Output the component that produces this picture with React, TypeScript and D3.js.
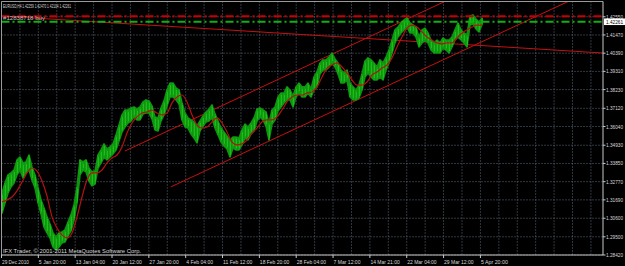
import React from "react";
import * as d3 from "d3";

// ---- Data (EURUSD H4; one sample ≈ every 3px) ----
const highs: number[] = [
  1.3210, 1.3269, 1.3317, 1.3329, 1.3346, 1.3406, 1.3423, 1.3388, 1.3394, 1.3435,
  1.3364, 1.3317, 1.3240, 1.3169, 1.3121, 1.3068, 1.3026, 1.2973, 1.2949, 1.2973,
  1.2979, 1.2991, 1.3038, 1.3080, 1.3139, 1.3246, 1.3406, 1.3394, 1.3406, 1.3358,
  1.3335, 1.3340, 1.3435, 1.3465, 1.3501, 1.3471, 1.3483, 1.3501, 1.3554, 1.3613,
  1.3673, 1.3702, 1.3702, 1.3714, 1.3720, 1.3708, 1.3720, 1.3750, 1.3762, 1.3756,
  1.3726, 1.3661, 1.3655, 1.3714, 1.3756, 1.3821, 1.3862, 1.3862, 1.3833, 1.3821,
  1.3744, 1.3684, 1.3655, 1.3643, 1.3631, 1.3607, 1.3637, 1.3667, 1.3690, 1.3708,
  1.3732, 1.3679, 1.3637, 1.3595, 1.3572, 1.3548, 1.3524, 1.3542, 1.3542, 1.3536,
  1.3584, 1.3619, 1.3601, 1.3625, 1.3655, 1.3708, 1.3714, 1.3702, 1.3690, 1.3625,
  1.3702, 1.3720, 1.3779, 1.3803, 1.3803, 1.3839, 1.3821, 1.3785, 1.3839, 1.3862,
  1.3839, 1.3839, 1.3862, 1.3827, 1.3898, 1.3928, 1.3981, 1.3999, 1.3999, 1.4016,
  1.4040, 1.4005, 1.3981, 1.3939, 1.3922, 1.3939, 1.3862, 1.3839, 1.3821, 1.3850,
  1.3916, 1.3993, 1.4011, 1.3999, 1.3981, 1.3957, 1.3999, 1.3981, 1.4016, 1.4058,
  1.4117, 1.4177, 1.4194, 1.4218, 1.4236, 1.4248, 1.4218, 1.4206, 1.4194, 1.4135,
  1.4177, 1.4188, 1.4159, 1.4117, 1.4100, 1.4117, 1.4100, 1.4129, 1.4117, 1.4117,
  1.4135, 1.4177, 1.4218, 1.4177, 1.4159, 1.4147, 1.4260, 1.4266, 1.4242, 1.4224,
  1.4247,
];
const lows: number[] = [
  1.3091, 1.3151, 1.3210, 1.3246, 1.3269, 1.3317, 1.3346, 1.3299, 1.3329, 1.3346,
  1.3287, 1.3240, 1.3151, 1.3086, 1.3008, 1.2973, 1.2943, 1.2890, 1.2872, 1.2890,
  1.2914, 1.2919, 1.2955, 1.2985, 1.3050, 1.3151, 1.3317, 1.3346, 1.3335, 1.3281,
  1.3252, 1.3263, 1.3358, 1.3388, 1.3423, 1.3406, 1.3423, 1.3441, 1.3465, 1.3518,
  1.3572, 1.3601, 1.3625, 1.3637, 1.3661, 1.3643, 1.3643, 1.3679, 1.3684, 1.3684,
  1.3649, 1.3584, 1.3578, 1.3637, 1.3673, 1.3726, 1.3779, 1.3779, 1.3762, 1.3738,
  1.3643, 1.3601, 1.3595, 1.3560, 1.3536, 1.3507, 1.3578, 1.3607, 1.3631, 1.3637,
  1.3655, 1.3595, 1.3554, 1.3512, 1.3489, 1.3471, 1.3423, 1.3477, 1.3465, 1.3465,
  1.3495, 1.3536, 1.3524, 1.3560, 1.3578, 1.3637, 1.3661, 1.3643, 1.3607, 1.3524,
  1.3619, 1.3643, 1.3696, 1.3720, 1.3744, 1.3762, 1.3762, 1.3720, 1.3779, 1.3803,
  1.3779, 1.3779, 1.3803, 1.3779, 1.3821, 1.3839, 1.3916, 1.3939, 1.3939, 1.3957,
  1.3981, 1.3957, 1.3916, 1.3862, 1.3862, 1.3880, 1.3779, 1.3762, 1.3762, 1.3773,
  1.3821, 1.3898, 1.3922, 1.3898, 1.3880, 1.3880, 1.3898, 1.3880, 1.3939, 1.3981,
  1.4040, 1.4100, 1.4135, 1.4159, 1.4177, 1.4194, 1.4159, 1.4159, 1.4135, 1.4076,
  1.4100, 1.4117, 1.4100, 1.4058, 1.4040, 1.4040, 1.4040, 1.4070, 1.4058, 1.4040,
  1.4076, 1.4117, 1.4135, 1.4117, 1.4100, 1.4076, 1.4206, 1.4212, 1.4183, 1.4165,
  1.4210,
];
// Moving average (red), one value every 5 chart px
const maValues: number[] = [
  1.3157, 1.3169, 1.3186, 1.3222, 1.3275, 1.3329, 1.3358, 1.3340, 1.3281, 1.3192,
  1.3068, 1.3002, 1.2961, 1.2943, 1.2973, 1.3068, 1.3186, 1.3287, 1.3329, 1.3329,
  1.3346, 1.3388, 1.3418, 1.3435, 1.3483, 1.3566, 1.3625, 1.3661, 1.3684, 1.3690,
  1.3702, 1.3684, 1.3673, 1.3684, 1.3744, 1.3779, 1.3791, 1.3750, 1.3673, 1.3613,
  1.3595, 1.3601, 1.3631, 1.3655, 1.3625, 1.3572, 1.3512, 1.3495, 1.3501, 1.3524,
  1.3566, 1.3595, 1.3631, 1.3643, 1.3643, 1.3661, 1.3702, 1.3750, 1.3779, 1.3791,
  1.3791, 1.3803, 1.3809, 1.3839, 1.3898, 1.3951, 1.3969, 1.3981, 1.3957, 1.3922,
  1.3880, 1.3850, 1.3850, 1.3868, 1.3910, 1.3928, 1.3951, 1.3969, 1.4011, 1.4076,
  1.4135, 1.4188, 1.4206, 1.4194, 1.4165, 1.4135, 1.4117, 1.4100, 1.4094, 1.4100,
  1.4100, 1.4129, 1.4159, 1.4177, 1.4194, 1.4206, 1.4206,
];
// Trend lines: [barIndex, price] pairs
const trendLines: [number, number][][] = [
  [[41, 1.3459], [160, 1.4449]],
  [[56.3, 1.3246], [200.3, 1.4442]],
  [[-0.7, 1.4260], [200.3, 1.4040]],
];
const redLevel = 1.4258;
const bidLevel = 1.42261;
const priceTicks: number[] = [
  1.4255, 1.4147, 1.4039, 1.3931, 1.3823, 1.3712, 1.3604, 1.3493, 1.3385, 1.3277,
  1.3169, 1.306, 1.295, 1.2842,
];
const priceTickLabels: string[] = [
  "1.42550", "1.41470", "1.40390", "1.39310", "1.38230", "1.37120", "1.36040",
  "1.34930", "1.33850", "1.32770", "1.31690", "1.30600", "1.29500", "1.28420",
];
const timeLabels: string[] = [
  "29 Dec 2010", "5 Jan 20:00", "13 Jan 04:00", "20 Jan 12:00", "27 Jan 20:00",
  "4 Feb 04:00", "11 Feb 12:00", "18 Feb 20:00", "28 Feb 04:00", "7 Mar 12:00",
  "14 Mar 21:00", "22 Mar 04:00", "29 Mar 12:00", "5 Apr 20:00",
];
const title = "EURUSD,H4  1.42259 1.42470 1.42104 1.42261";
const orderLabel = "#12838718 buy";
const copyright = "IFX Trader, © 2001-2011 MetaQuotes Software Corp.";

// ---- Layout ----
const W = 625, H = 266;
const L = 1.5, R = 603, T = 1.5, B = 255;
const barsPerLabel = 12.28;
const FONT = "'Liberation Sans', Arial, sans-serif";

export default function App() {
  const n = highs.length;
  const x = d3.scaleLinear().domain([0, n - 1]).range([2, 482]);
  const y = d3.scaleLinear().domain([1.2842, 1.43545]).range([255, 0]);
  const maX = (k: number) => x((k * 5) / 3);

  const maLine = d3
    .line<number>()
    .x((_, k) => maX(k))
    .y((v) => y(v))
    .curve(d3.curveMonotoneX);

  const band = d3
    .area<number>()
    .x((_, i) => x(i))
    .y0((_, i) => y(lows[i]))
    .y1((h) => y(h))
    .curve(d3.curveLinear);

  const gridXs: number[] = [];
  for (let g = 0; g < 40; g++) {
    const px = x(g * (barsPerLabel / 2) - 0.17);
    if (px <= R - 2) gridXs.push(px);
  }
  const labelXs = timeLabels.map((_, i) => x(i * barsPerLabel - 0.17));

  const gridColor = "#6b7a8c";
  const textColor = "#d8d8d8";

  return (
    <svg
      width={W}
      height={H}
      style={{ position: "absolute", left: 0, top: 0, display: "block" }}
      fontFamily={FONT}
    >
      <defs>
        <clipPath id="plot">
          <rect x={L} y={T} width={R - L} height={B - T} />
        </clipPath>
      </defs>
      <rect x={0} y={0} width={W} height={H} fill="#000" />

      {/* grid */}
      <g stroke={gridColor} strokeWidth={1} strokeDasharray="1,2" opacity={0.9}>
        {gridXs.map((gx, i) => (
          <line key={"gx" + i} x1={gx} x2={gx} y1={T} y2={B} />
        ))}
        {priceTicks.map((p, i) => (
          <line key={"gy" + i} x1={L} x2={R} y1={y(p)} y2={y(p)} />
        ))}
      </g>

      <g clipPath="url(#plot)">
        {/* trend lines */}
        {trendLines.map((seg, i) => (
          <line
            key={"tl" + i}
            x1={x(seg[0][0])}
            y1={y(seg[0][1])}
            x2={x(seg[1][0])}
            y2={y(seg[1][1])}
            stroke="#c81010"
            strokeWidth={1}
          />
        ))}

        {/* price band (dense H4 candles) */}
        <path d={band(highs) || ""} fill="#0e940e" stroke="#0e940e" strokeWidth={1.6} strokeLinejoin="round" />
        {highs.map((h, i) => (
          <rect
            key={"c" + i}
            x={x(i) - 1}
            width={2}
            y={y(h)}
            height={Math.max(1, y(lows[i]) - y(h))}
            fill="#10a010"
          />
        ))}
        {highs.map((h, i) => (
          <line
            key={"cl" + i}
            x1={x(i) + 0.5}
            x2={x(i) + 0.5}
            y1={y(h) + 2}
            y2={y(lows[i]) - 2}
            stroke="#2ad42a"
            strokeWidth={0.8}
            opacity={0.7}
          />
        ))}

        {/* moving average */}
        <path d={maLine(maValues) || ""} fill="none" stroke="#b41212" strokeWidth={1.2} />

        {/* horizontal levels */}
        <line x1={L} x2={R} y1={y(redLevel)} y2={y(redLevel)} stroke="#c80000" strokeWidth={2} strokeDasharray="8,3,2,3" />
        <line x1={L} x2={R} y1={y(bidLevel)} y2={y(bidLevel)} stroke="#10b010" strokeWidth={2} strokeDasharray="8,3,2,3" />
      </g>

      {/* frame */}
      <line x1={L} x2={L} y1={T} y2={B} stroke="#9a9a9a" />
      <line x1={L} x2={R} y1={T} y2={T} stroke="#9a9a9a" />
      <line x1={R} x2={R} y1={T} y2={B} stroke="#c8c8c8" />
      <line x1={L} x2={R} y1={B} y2={B} stroke="#c8c8c8" />

      {/* right axis */}
      {priceTicks.map((p, i) => (
        <g key={"pt" + i}>
          <line x1={R} x2={R + 2.5} y1={y(p)} y2={y(p)} stroke="#c8c8c8" />
          <text x={606} y={y(p) + 2} fontSize={5.5} fill={textColor} textLength={17} lengthAdjust="spacingAndGlyphs">
            {priceTickLabels[i]}
          </text>
        </g>
      ))}
      <rect x={604} y={y(bidLevel) - 3.2} width={21} height={6.6} fill="#fff" />
      <text x={606} y={y(bidLevel) + 2} fontSize={5.5} fill="#000" textLength={17} lengthAdjust="spacingAndGlyphs">
        {bidLevel.toFixed(5)}
      </text>

      {/* bottom axis */}
      {labelXs.map((lx, i) => (
        <g key={"tx" + i}>
          <line x1={lx} x2={lx} y1={B} y2={B + 3} stroke="#c8c8c8" />
          <text x={lx + 0.5} y={264} fontSize={5.5} fill={textColor} textLength={timeLabels[i].length * 2.45} lengthAdjust="spacingAndGlyphs">
            {timeLabels[i]}
          </text>
        </g>
      ))}

      {/* texts */}
      <text x={3} y={8} fontSize={5.5} fill={textColor} textLength={68} lengthAdjust="spacingAndGlyphs">
        {title}
      </text>
      <text x={3} y={20} fontSize={5} fill="#c0c0c0" textLength={42} lengthAdjust="spacingAndGlyphs">
        {orderLabel}
      </text>
      <text x={3} y={253} fontSize={5.5} fill={textColor} textLength={138} lengthAdjust="spacingAndGlyphs">
        {copyright}
      </text>
    </svg>
  );
}
